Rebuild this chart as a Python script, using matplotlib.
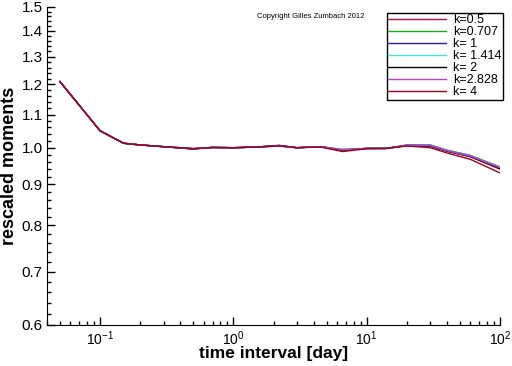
import numpy as np
import matplotlib.pyplot as plt
from matplotlib.ticker import FixedLocator, FixedFormatter, LogLocator, NullFormatter

plt.rcParams['font.family'] = ['Liberation Sans', 'DejaVu Sans']
plt.rcParams['mathtext.default'] = 'regular'

# time interval [day]
x = [0.05, 0.1, 0.15, 0.2, 0.3, 0.5, 0.7, 1, 1.5, 2.2, 3, 4.5, 6.6, 10, 14, 20, 30, 40, 60, 100]

labels = ["k=0.5", "k=0.707", "k= 1", "k= 1.414", "k= 2", "k=2.828", "k= 4"]
colors = ["#b01030", "#10b010", "#2020a0", "#40e0e0", "#000000", "#c040c0", "#a00020"]

m_05 = [1.21, 1.05, 1.013, 1.008, 1.003, 0.997, 1.001, 1.0, 1.002, 1.006, 1.0, 1.003, 0.993, 0.998, 0.998, 1.006, 1.004, 0.99, 0.974, 0.940]
m_0707 = [1.21, 1.05, 1.013, 1.008, 1.003, 0.997, 1.001, 1.0, 1.002, 1.006, 1.0, 1.003, 0.994, 0.998, 0.998, 1.007, 1.006, 0.991, 0.976, 0.943]
m_1 = [1.21, 1.05, 1.013, 1.008, 1.003, 0.997, 1.001, 1.0, 1.002, 1.005, 1.0, 1.003, 0.995, 0.998, 0.998, 1.008, 1.008, 0.993, 0.978, 0.946]
m_1414 = [1.21, 1.05, 1.013, 1.008, 1.003, 0.997, 1.001, 1.0, 1.002, 1.006, 1.0, 1.003, 0.995, 0.998, 0.998, 1.007, 1.007, 0.992, 0.977, 0.945]
m_2 = [1.21, 1.05, 1.013, 1.008, 1.003, 0.996, 1.001, 1.0, 1.002, 1.007, 1.0, 1.003, 0.993, 0.998, 0.998, 1.006, 1.005, 0.99, 0.975, 0.942]
m_2828 = [1.21, 1.05, 1.013, 1.008, 1.003, 0.997, 1.001, 1.0, 1.002, 1.006, 1.0, 1.003, 0.994, 0.998, 0.998, 1.007, 1.006, 0.991, 0.976, 0.944]
m_4 = [1.21, 1.05, 1.013, 1.008, 1.003, 0.998, 1.0, 1.0, 1.002, 1.005, 1.0, 1.002, 0.989, 0.997, 0.998, 1.005, 1.0, 0.985, 0.967, 0.930]
series = [m_05, m_0707, m_1, m_1414, m_2, m_2828, m_4]

yticks = [0.6, 0.7, 0.8, 0.9, 1.0, 1.1, 1.2, 1.3, 1.4, 1.5]
ytick_labels = ["0.6", "0.7", "0.8", "0.9", "1.0", "1.1", "1.2", "1.3", "1.4", "1.5"]

fig = plt.figure(figsize=(5.12, 3.66), dpi=100)
ax = fig.add_axes([47/512, 41/366, 453/512, 318/366])

for ys, c, lab in zip(series, colors, labels):
    ax.plot(x, ys, color=c, lw=1.0, label=lab)

ax.set_xscale('log')
ax.set_yscale('log')
ax.set_xlim(0.04, 100)
ax.set_ylim(0.6, 1.5)

ax.yaxis.set_major_locator(FixedLocator(yticks))
ax.yaxis.set_major_formatter(FixedFormatter(ytick_labels))
ax.yaxis.set_minor_locator(FixedLocator(np.arange(0.62, 1.5, 0.02)))
ax.yaxis.set_minor_formatter(NullFormatter())
ax.xaxis.set_minor_locator(LogLocator(base=10, subs=np.arange(2, 10)))
ax.xaxis.set_minor_formatter(NullFormatter())

ax.spines['top'].set_visible(False)
ax.spines['right'].set_visible(False)
ax.tick_params(which='both', direction='in', width=1)
ax.tick_params(which='major', length=6)
ax.tick_params(which='minor', length=3)
ax.tick_params(axis='y', labelsize=11, pad=3)
ax.tick_params(axis='x', labelsize=10, pad=3)

ax.set_xlabel("time interval [day]", fontsize=12.5, fontweight='bold', labelpad=-1)
ax.set_ylabel("rescaled moments", fontsize=13, fontweight='bold', labelpad=3)

fig.text(257/512, 1 - 18/366, "Copyright Gilles Zumbach 2012", fontsize=5.5)

leg = ax.legend(loc='upper left', bbox_to_anchor=(387/512, 1 - 13/366), bbox_transform=fig.transFigure,
                fontsize=9, handlelength=4.6, labelspacing=0.0, handletextpad=0.6,
                borderpad=0.1, fancybox=False, framealpha=1, borderaxespad=0)
leg.get_frame().set_edgecolor('black')
leg.get_frame().set_linewidth(1)

fig.savefig("out.png", dpi=100)
